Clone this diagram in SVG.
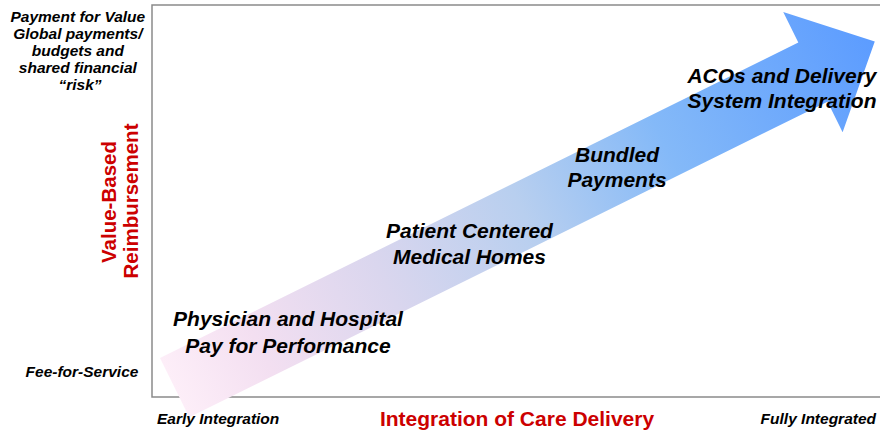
<svg xmlns="http://www.w3.org/2000/svg" width="880" height="432" viewBox="0 0 880 432">
  <style>
    .lab { font-family: "Liberation Sans", Arial, sans-serif; font-weight: bold; font-style: italic; fill: #000; }
    .axis { font-size: 15.5px; }
    .big { font-size: 21px; text-anchor: middle; }
    .red { font-family: "Liberation Sans", Arial, sans-serif; font-weight: bold; fill: #cc0000; }
  </style>
  <defs>
    <linearGradient id="arrowGrad" gradientUnits="userSpaceOnUse" x1="0" y1="0" x2="781" y2="0">
      <stop offset="0" stop-color="#fdeef8"/>
      <stop offset="0.12" stop-color="#f3dff1"/>
      <stop offset="0.3" stop-color="#dad6ee"/>
      <stop offset="0.5" stop-color="#b8cfef"/>
      <stop offset="0.7" stop-color="#84b9f8"/>
      <stop offset="1" stop-color="#5c9cff"/>
    </linearGradient>
  </defs>
  <rect width="880" height="432" fill="#ffffff"/>

  <g id="frame">
    <path d="M880,5 H152 V397 H880" fill="none" stroke="#8a8a8a" stroke-width="1.5"/>
  </g>

  <g id="arrow" transform="translate(160,358) rotate(-26.3)">
    <polygon points="0,0 712,0 712,-34 781,33 712,100 712,66 0,66" fill="url(#arrowGrad)"/>
  </g>

  <g id="y-top">
    <text class="lab axis" text-anchor="middle">
      <tspan x="80" y="22">Payment for Value</tspan>
      <tspan x="80" y="39">Global payments/</tspan>
      <tspan x="80" y="56">budgets and</tspan>
      <tspan x="80" y="73">shared financial</tspan>
      <tspan x="80" y="90">“risk”</tspan>
    </text>
  </g>
  <g id="y-bottom">
    <text class="lab axis" x="82" y="377" text-anchor="middle">Fee-for-Service</text>
  </g>
  <g id="y-title">
    <text class="red" font-size="20.5" text-anchor="middle" transform="translate(115.5,202) rotate(-90)">Value-Based</text>
    <text class="red" font-size="20.5" text-anchor="middle" transform="translate(138,201) rotate(-90)">Reimbursement</text>
  </g>
  <g id="x-left">
    <text class="lab axis" x="157" y="424">Early Integration</text>
  </g>
  <g id="x-title">
    <text class="red" font-size="21" x="517" y="426" text-anchor="middle">Integration of Care Delivery</text>
  </g>
  <g id="x-right">
    <text class="lab axis" x="876" y="424" text-anchor="end">Fully Integrated</text>
  </g>

  <g id="stage-p4p">
    <text class="lab big"><tspan x="288" y="326">Physician and Hospital</tspan><tspan x="288" y="353">Pay for Performance</tspan></text>
  </g>
  <g id="stage-pcmh">
    <text class="lab big"><tspan x="469.5" y="238">Patient Centered</tspan><tspan x="469.5" y="264">Medical Homes</tspan></text>
  </g>
  <g id="stage-bundled">
    <text class="lab big"><tspan x="617" y="162">Bundled</tspan><tspan x="617" y="187">Payments</tspan></text>
  </g>
  <g id="stage-aco">
    <text class="lab big"><tspan x="782" y="83">ACOs and Delivery</tspan><tspan x="782" y="108">System Integration</tspan></text>
  </g>
</svg>
